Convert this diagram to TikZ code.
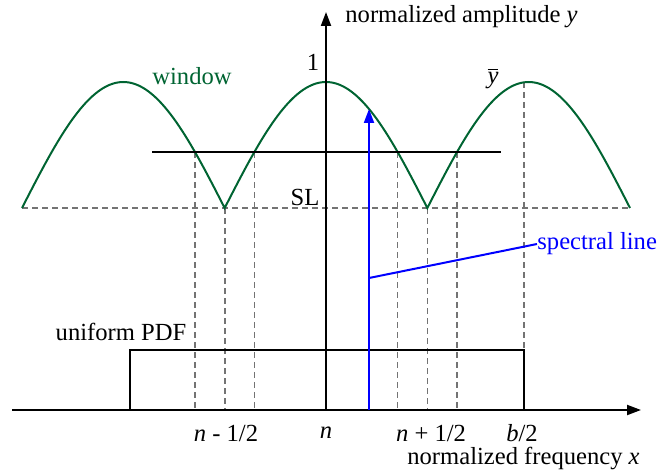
\documentclass[tikz,border=0pt]{standalone}
\usepackage{fontspec}
\setmainfont{Liberation Serif}
\usetikzlibrary{arrows.meta,positioning}
\definecolor{wingreen}{RGB}{0,100,50}
\tikzset{
  ax/.style = {line width=1pt, -{Triangle[length=7pt,width=5pt]}},
  guide/.style = {draw=black!55, line width=0.8pt, dash pattern=on 3pt off 2pt},
  win/.style = {draw=wingreen, line width=1pt},
  spec/.style = {draw=blue, line width=1pt},
  lbl/.style = {font=\fontsize{12.3}{14}\selectfont, inner sep=0pt}
}

\begin{document}
\begin{tikzpicture}[x=0.5pt,y=-0.5pt]
  \useasboundingbox (0,0) rectangle (667,470);
  % axis points
  \coordinate (o) at (326,410);
  \coordinate (xs) at (12,410);
  \coordinate (xe) at (641,410);
  \coordinate (yt) at (326,12);
  % side-lobe level and threshold
  \coordinate (sl1) at (22,208);
  \coordinate (sl2) at (630,208);
  \coordinate (th1) at (152,152);
  \coordinate (th2) at (501,152);
  % crossings, minima and the b/2 peak
  \coordinate (c1) at (195,152);
  \coordinate (m1) at (224.7,208);
  \coordinate (c2) at (254.4,152);
  \coordinate (c3) at (397.6,152);
  \coordinate (m2) at (427.3,208);
  \coordinate (c4) at (457,152);
  \coordinate (pk) at (524,82);
  \foreach \p in {c1,m1,c2,c3,m2,c4,pk}
    \coordinate (\p b) at (\p |- o);

  \draw[guide] (sl1) -- (sl2);
  \foreach \p in {c1,m1,c2,c3,m2,c4,pk}
    \draw[guide] (\p) -- (\p b);

  % window
  \draw[win] plot[domain=22:630, samples=241]
    ({\x},{208-126*abs(sin((\x-22)*0.88815))});
  \draw[line width=0.8pt] (th1) -- (th2);

  \draw[ax] (xs) -- (xe);
  \draw[ax] (o) -- (yt);

  % uniform PDF
  \coordinate (r1) at (130,410);
  \coordinate (r2) at (130,350);
  \coordinate (r3) at (524,350);
  \draw[line width=0.8pt] (r1) -- (r2) -- (r3) -- (pkb);

  % spectral line
  \coordinate (sb) at (369,410);
  \coordinate (st) at (369,109);
  \coordinate (sp) at (369,278);
  \draw[spec, -{Triangle[length=7pt,width=5pt]}] (sb) -- (st);
  \node[lbl, text=blue, anchor=west] (sname) at (537,244) {spectral line};
  \draw[spec] (sp) -- (sname.west);

  % labels
  \node[lbl, anchor=west] (ylab) at (345,17) {normalized amplitude \textit{y}};
  \node[lbl, anchor=east] (xlab) at (640,458) {normalized frequency \textit{x}};
  \node[lbl] (one) at (313,62) {1};
  \node[lbl, text=wingreen] (wlab) at (192,76) {window};
  \node[lbl] (ybar) at (493,79) {$\overline{\mbox{\textit{y}}}$};
  \node[lbl] (sllab) at (305,197) {SL};
  \node[lbl] (pdf) at (121,332) {uniform PDF};
  \node[lbl] (t1) at (226,433) {\textit{n} - 1/2};
  \node[lbl] (t2) at (326,433) {\textit{n}};
  \node[lbl] (t3) at (431,433) {\textit{n} + 1/2};
  \node[lbl] (t4) at (522,433) {\textit{b}/2};
\end{tikzpicture}
\end{document}
